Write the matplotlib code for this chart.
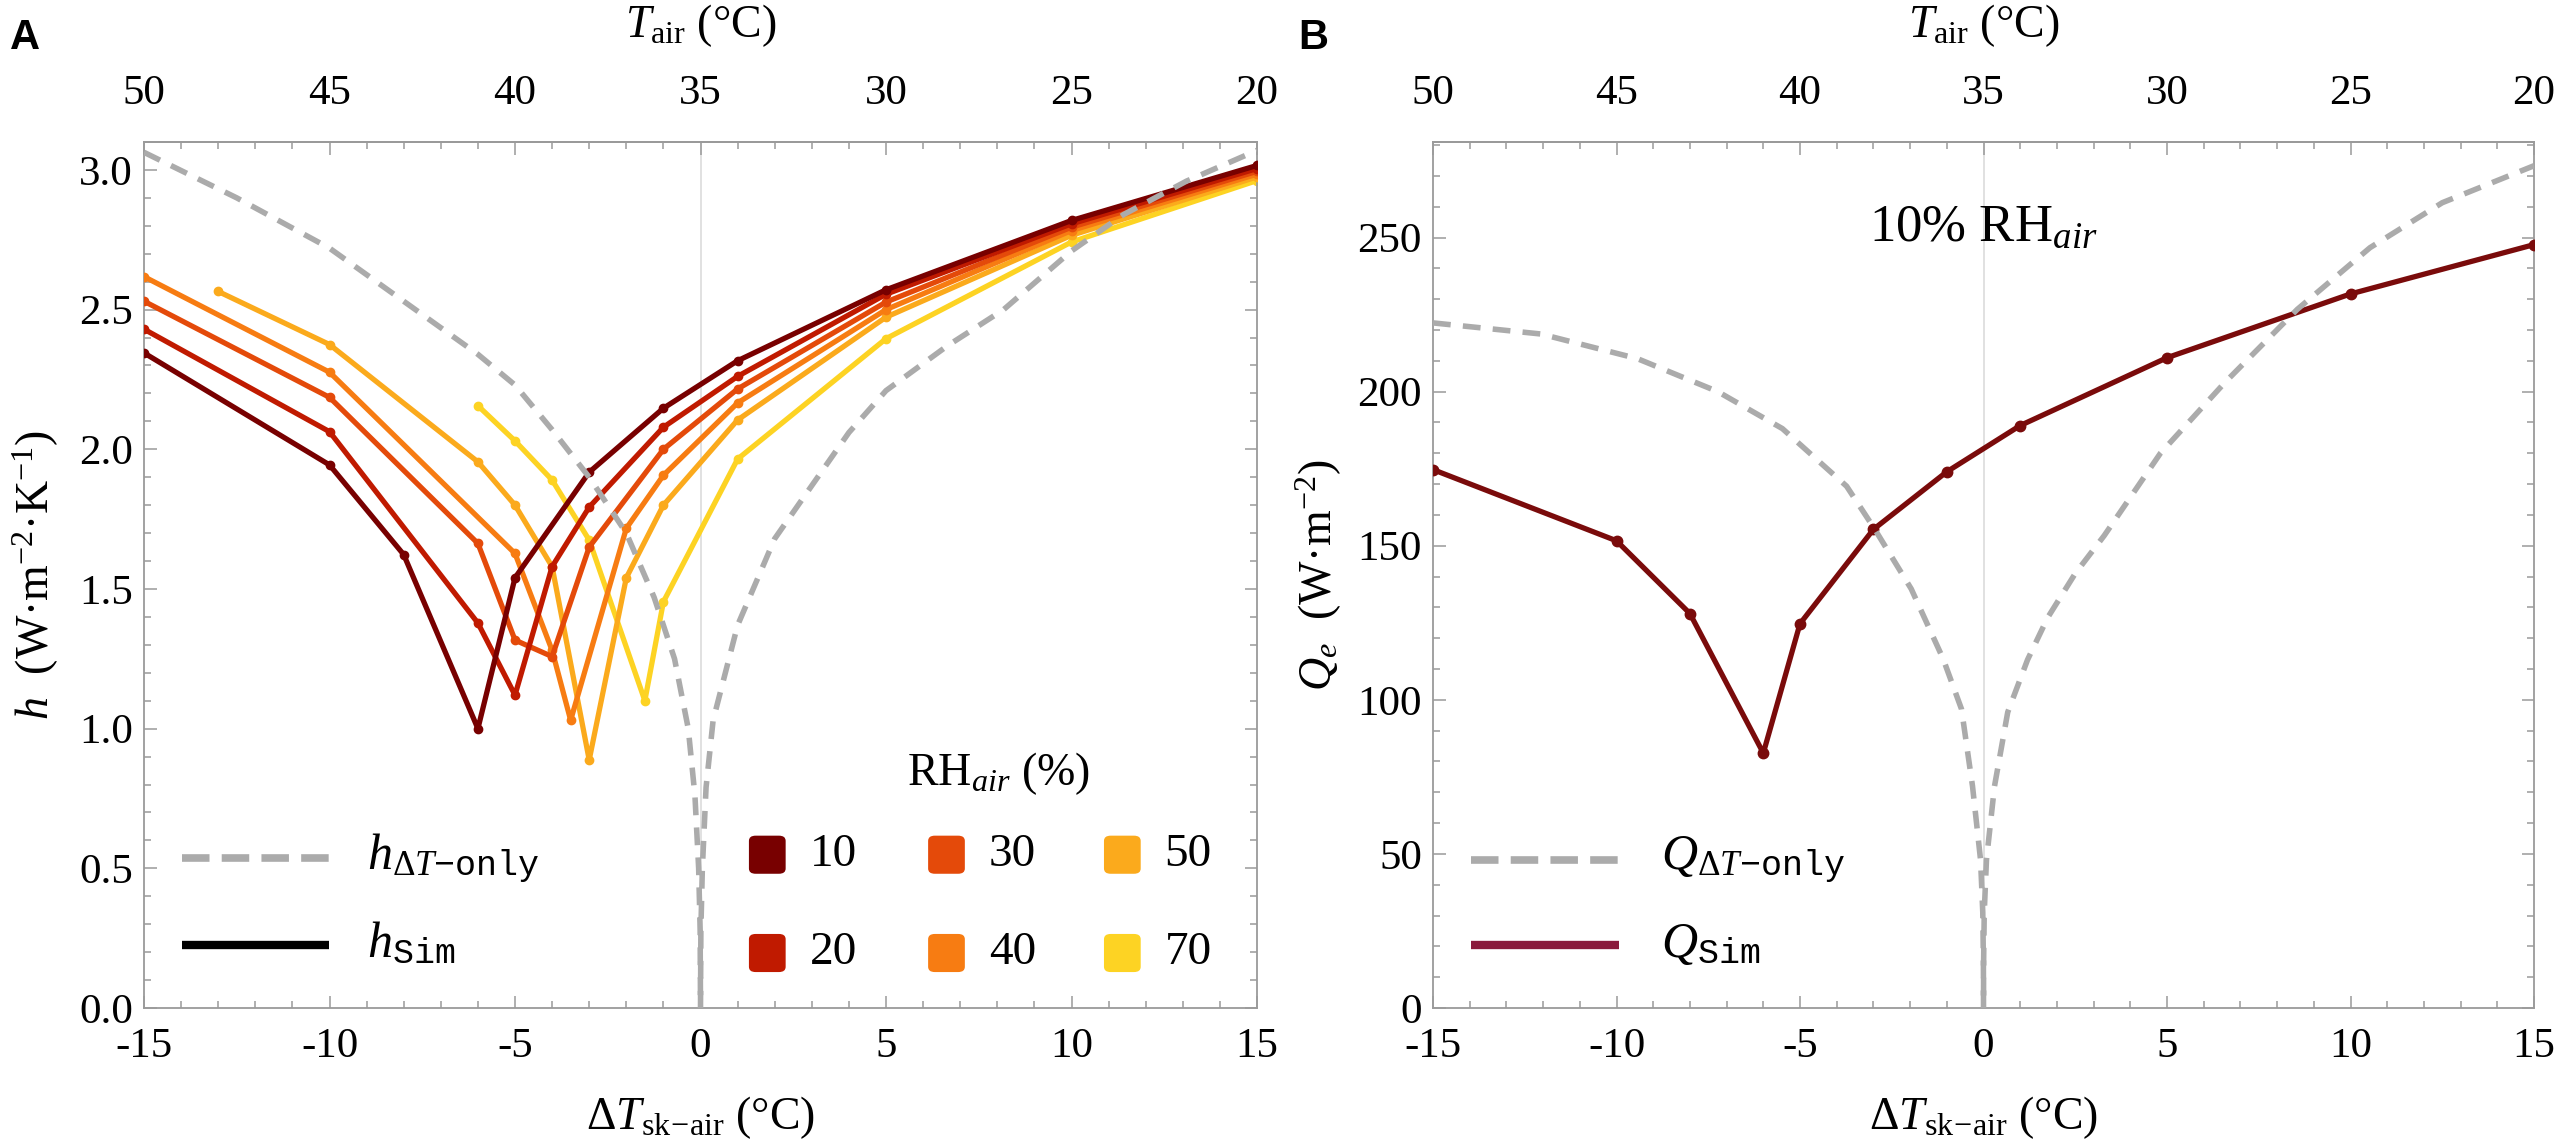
import matplotlib
matplotlib.use("Agg")
import matplotlib.pyplot as plt
from matplotlib.patches import FancyBboxPatch
from matplotlib.ticker import FixedLocator, FormatStrFormatter

plt.rcParams['font.family'] = ['Liberation Serif', 'DejaVu Serif']
plt.rcParams['mathtext.fontset'] = 'custom'
plt.rcParams['mathtext.rm'] = 'Liberation Serif'
plt.rcParams['mathtext.it'] = 'Liberation Serif:italic'
plt.rcParams['mathtext.bf'] = 'Liberation Serif:bold'
plt.rcParams['mathtext.tt'] = 'Liberation Mono'

# ---- panel A: h vs dT for several RH ----
rh_levels = [10, 20, 30, 40, 50, 70]

dT_10 = [-15, -10, -8, -6, -5, -3, -1, 1, 5, 10, 15]
h_10 = [2.345, 1.944, 1.623, 1.00, 1.54, 1.918, 2.147, 2.317, 2.571, 2.819, 3.016]
dT_20 = [-15, -10, -6, -5, -4, -3, -1, 1, 5, 10, 15]
h_20 = [2.43, 2.063, 1.378, 1.12, 1.58, 1.793, 2.079, 2.261, 2.555, 2.807, 3.005]
dT_30 = [-15, -10, -6, -5, -4, -3, -1, 1, 5, 10, 15]
h_30 = [2.53, 2.186, 1.663, 1.317, 1.258, 1.65, 2.0, 2.216, 2.527, 2.795, 2.995]
dT_40 = [-15, -10, -5, -4, -3.5, -2, -1, 1, 5, 10, 15]
h_40 = [2.618, 2.276, 1.627, 1.28, 1.03, 1.717, 1.907, 2.166, 2.50, 2.783, 2.985]
dT_50 = [-13, -10, -6, -5, -4, -3, -2, -1, 1, 5, 10, 15]
h_50 = [2.565, 2.375, 1.955, 1.80, 1.58, 0.888, 1.54, 1.80, 2.105, 2.473, 2.766, 2.975]
dT_70 = [-6, -5, -4, -3, -1.5, -1, 1, 5, 10, 15]
h_70 = [2.156, 2.03, 1.89, 1.675, 1.10, 1.454, 1.965, 2.396, 2.742, 2.962]

# dT-only reference curve
hx_only = [-15, -12.5, -10, -8, -6, -5, -4, -3, -2, -1.25, -0.7, -0.33, -0.15, -0.05, -0.01, 0,
           0.01, 0.05, 0.15, 0.34, 1.0, 2.0, 3.0, 4.0, 5.0, 6.65, 8.17, 10.0, 11.4, 13.1, 15]
hy_only = [3.063, 2.90, 2.72, 2.53, 2.34, 2.23, 2.07, 1.90, 1.70, 1.47, 1.25, 1.0, 0.76, 0.5, 0.28, 0,
           0.28, 0.5, 0.79, 1.03, 1.37, 1.68, 1.87, 2.06, 2.21, 2.37, 2.50, 2.71, 2.84, 2.96, 3.07]

# ---- panel B: Q_e at 10% RH ----
dT_q = [-15, -10, -8, -6, -5, -3, -1, 1, 5, 10, 15]
q_sim = [174.7, 151.6, 128.0, 82.7, 124.7, 155.3, 174.0, 189.0, 211.0, 231.7, 247.7]
qx_only = [-15, -12.06, -9.43, -7.24, -5.48, -3.73, -2.96, -1.97, -1.1, -0.6, -0.3, -0.08, -0.02, -0.003, 0,
           0.003, 0.02, 0.08, 0.3, 0.66, 1.2, 1.75, 2.5, 3.29, 4.82, 6.58, 8.55, 10.53, 12.5, 15]
qy_only = [222.3, 218.7, 210.7, 200, 188, 169.3, 155.3, 136, 113.3, 97, 72, 48, 31, 15, 0,
           15, 31, 48, 72, 96, 113, 126.7, 141, 153.3, 180, 203, 226.7, 246.7, 261.3, 273.3]

# axis ticks
dT_major = [-15, -10, -5, 0, 5, 10, 15]
tair_major = [50, 45, 40, 35, 30, 25, 20]
h_major = [0.0, 0.5, 1.0, 1.5, 2.0, 2.5, 3.0]
q_major = [0, 50, 100, 150, 200, 250]

rh_colors = ['#780000', '#c01a00', '#e44a0a', '#f77c12', '#fbaa1c', '#fdd323']
series = [(dT_10, h_10), (dT_20, h_20), (dT_30, h_30), (dT_40, h_40), (dT_50, h_50), (dT_70, h_70)]
gray = '#ababab'
frame = '#9a9a9a'
q_color = '#7a0b0b'
q_leg_color = '#8a1a3c'

TICK = 31
LAB = 33


def style_axes(ax, ymax, ymajor, yminor_step, yfmt):
    ax.set_xlim(-15, 15)
    ax.set_ylim(0, ymax)
    ax.xaxis.set_major_locator(FixedLocator(dT_major))
    ax.xaxis.set_minor_locator(FixedLocator(list(range(-15, 16))))
    ax.yaxis.set_major_locator(FixedLocator(ymajor))
    n = int(round(ymax / yminor_step))
    ax.yaxis.set_minor_locator(FixedLocator([i * yminor_step for i in range(n + 1)]))
    ax.yaxis.set_major_formatter(FormatStrFormatter(yfmt))
    ax.xaxis.set_major_formatter(FormatStrFormatter('%d'))
    for s in ax.spines.values():
        s.set_color(frame)
        s.set_linewidth(1.3)
    ax.tick_params(which='both', direction='in', color=frame, width=1.1,
                   top=False, right=True, labelsize=TICK)
    ax.tick_params(which='major', length=9)
    ax.tick_params(which='minor', length=5)
    ax.tick_params(axis='x', pad=14)
    ax.tick_params(axis='y', pad=8)
    ax.axvline(0, color='#dcdcdc', lw=1.2, zorder=0)

    top = ax.secondary_xaxis('top', functions=(lambda x: 35 - x, lambda t: 35 - t))
    top.xaxis.set_major_locator(FixedLocator(tair_major))
    top.xaxis.set_minor_locator(FixedLocator(list(range(20, 51))))
    top.xaxis.set_major_formatter(FormatStrFormatter('%d'))
    top.spines['top'].set_color(frame)
    top.spines['top'].set_linewidth(1.3)
    top.tick_params(which='both', direction='in', color=frame, width=1.1, labelsize=TICK, pad=21)
    top.tick_params(which='major', length=9)
    top.tick_params(which='minor', length=5)
    ax.text(0.5, 1.135, r'$T_{\mathrm{air}}$ (°C)', transform=ax.transAxes,
            ha='center', va='center', fontsize=LAB)
    ax.set_xlabel(r'$\Delta T_{\mathrm{sk\!-\!air}}$ (°C)', fontsize=LAB)
    ax.xaxis.set_label_coords(0.5, -0.127)
    ax.xaxis.label.set_va('center')


fig = plt.figure(figsize=(25.6, 11.42), dpi=100)
axA = fig.add_axes([0.05625, 0.11734, 0.43477, 0.75832])
axB = fig.add_axes([0.55977, 0.11734, 0.43008, 0.75832])

# panel A
style_axes(axA, 3.1, h_major, 0.1, '%.1f')
for (x, y), c, z in zip(reversed(series), reversed(rh_colors), range(6)):
    axA.plot(x, y, color=c, lw=3.8, marker='o', ms=6, zorder=2 + z)
axA.plot(hx_only, hy_only, color=gray, lw=4, dashes=(3.2, 2.2), zorder=10)
axA.set_ylabel(r'$h$  (W·m$^{-2}$·K$^{-1}$)', fontsize=LAB)
axA.yaxis.set_label_coords(-0.097, 0.5)
axA.yaxis.label.set_va('center')

# legend A (line types)
axA.plot([0.034, 0.166], [0.173, 0.173], transform=axA.transAxes, color=gray, lw=5.5,
         dashes=(3.6, 1.6), dash_capstyle='butt')
axA.plot([0.034, 0.166], [0.073, 0.073], transform=axA.transAxes, color='black', lw=6,
         solid_capstyle='butt')
axA.text(0.200, 0.173, r'$h_{\Delta T\mathtt{-only}}$', transform=axA.transAxes,
         ha='left', va='center', fontsize=36)
axA.text(0.200, 0.073, r'$h_{\mathtt{Sim}}$', transform=axA.transAxes,
         ha='left', va='center', fontsize=36)

# legend A (RH swatches)
axA.text(0.768, 0.271, r'$\mathrm{RH}_{\mathit{air}}$ (%)', transform=axA.transAxes,
         ha='center', va='center', fontsize=33)
sw_x = [0.560, 0.721, 0.879]
sw_y = [0.177, 0.0635]
for i, (rh, c) in enumerate(zip(rh_levels, rh_colors)):
    cx = sw_x[i // 2]
    cy = sw_y[i % 2]
    w, h = 0.033, 0.044
    box = FancyBboxPatch((cx - w / 2, cy - h / 2), w, h, boxstyle='round,pad=0,rounding_size=0.006',
                         transform=axA.transAxes, facecolor=c, edgecolor='none', zorder=20)
    axA.add_patch(box)
    axA.text(cx + 0.038, cy, str(rh), transform=axA.transAxes, ha='left', va='center',
             fontsize=34)

# panel B
style_axes(axB, 281, q_major, 10, '%d')
axB.plot(dT_q, q_sim, color=q_color, lw=3.8, marker='o', ms=7.5, zorder=3)
axB.plot(qx_only, qy_only, color=gray, lw=4, dashes=(3.2, 2.2), zorder=10)
axB.set_ylabel(r'$Q_e$  (W·m$^{-2}$)', fontsize=LAB)
axB.yaxis.set_label_coords(-0.104, 0.5)
axB.yaxis.label.set_va('center')
axB.text(0, 253, r'10% RH$_{\mathit{air}}$', ha='center', va='center', fontsize=38)

axB.plot([0.0345, 0.169], [0.171, 0.171], transform=axB.transAxes, color=gray, lw=5.5,
         dashes=(3.6, 1.6), dash_capstyle='butt')
axB.plot([0.0345, 0.169], [0.073, 0.073], transform=axB.transAxes, color=q_leg_color, lw=6,
         solid_capstyle='butt')
axB.text(0.207, 0.171, r'$Q_{\Delta T\mathtt{-only}}$', transform=axB.transAxes,
         ha='left', va='center', fontsize=36)
axB.text(0.207, 0.073, r'$Q_{\mathtt{Sim}}$', transform=axB.transAxes,
         ha='left', va='center', fontsize=36)

# panel letters
letter_font = ['Liberation Sans Narrow', 'Liberation Sans', 'DejaVu Sans']
fig.text(0.004, 0.957, 'A', fontsize=30, fontweight='bold', family=letter_font, va='baseline')
fig.text(0.507, 0.957, 'B', fontsize=30, fontweight='bold', family=letter_font, va='baseline')

fig.savefig('out.png', dpi=100)
